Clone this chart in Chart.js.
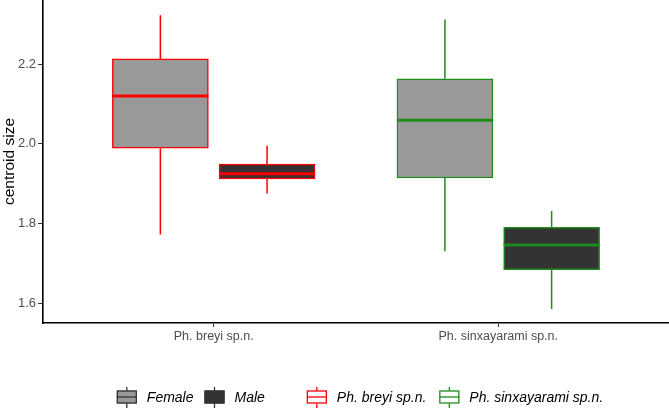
<!DOCTYPE html>
<html>
<head>
<meta charset="utf-8">
<script src="https://cdn.jsdelivr.net/npm/chart.js@4.4.0/dist/chart.umd.min.js"></script>
<style>
body { margin: 0; background: #fff; }
#wrap { width: 669px; height: 408px; }
</style>
</head>
<body>
<div id="wrap"><canvas id="chart-box" width="669" height="408"></canvas></div>
<script>
// data
var categories = ['Ph. breyi sp.n.', 'Ph. sinxayarami sp.n.'];
var categoryPos = [1, 2];
var sexes = ['Female', 'Male'];
var yTicks = [1.6, 1.8, 2.0, 2.2];

var femaleMin = [1.772, 1.730];
var femaleQ1 = [1.989, 1.914];
var femaleMedian = [2.120, 2.059];
var femaleQ3 = [2.213, 2.163];
var femaleMax = [2.323, 2.312];

var maleMin = [1.875, 1.585];
var maleQ1 = [1.912, 1.684];
var maleMedian = [1.925, 1.746];
var maleQ3 = [1.949, 1.790];
var maleMax = [1.995, 1.831];

var speciesColors = ['#FF0000', '#1F8B1F'];
var sexFills = ['#999999', '#333333'];
var dodge = 0.1875;

var canv = document.getElementById('chart-box');
var context = canv.getContext('2d');

var makeBoxes = (label, offset, q1, q3, mins, meds, maxs, fill) => {
    var pts = [];
    for (var i = 0; i < categoryPos.length; i++) {
        pts.push({x: categoryPos[i] + offset, y: [q1[i], q3[i]]});
    }
    return {
        label: label,
        data: pts,
        stats: {min: mins, median: meds, max: maxs},
        backgroundColor: fill,
        borderColor: speciesColors,
        borderWidth: 1.5,
        borderSkipped: false,
        barThickness: 96,
        grouped: false
    };
};

// whiskers go under the boxes, medians on top
var drawParts = (chart, part) => {
    var ctx = chart.ctx;
    var ys = chart.scales.y;
    chart.data.datasets.forEach((ds, di) => {
        var meta = chart.getDatasetMeta(di);
        meta.data.forEach((bar, i) => {
            ctx.save();
            ctx.strokeStyle = ds.borderColor[i];
            ctx.beginPath();
            if (part === 'whisker') {
                ctx.lineWidth = 1.5;
                ctx.moveTo(bar.x, ys.getPixelForValue(ds.stats.max[i]));
                ctx.lineTo(bar.x, ys.getPixelForValue(ds.data[i].y[1]));
                ctx.moveTo(bar.x, ys.getPixelForValue(ds.data[i].y[0]));
                ctx.lineTo(bar.x, ys.getPixelForValue(ds.stats.min[i]));
            } else {
                ctx.lineWidth = 3;
                var my = ys.getPixelForValue(ds.stats.median[i]);
                ctx.moveTo(bar.x - bar.width / 2, my);
                ctx.lineTo(bar.x + bar.width / 2, my);
            }
            ctx.stroke();
            ctx.restore();
        });
    });
};

var drawKey = (ctx, x, cy, fill, stroke) => {
    ctx.strokeStyle = stroke;
    ctx.lineWidth = 1.3;
    ctx.beginPath();
    ctx.moveTo(x + 10, cy - 10);
    ctx.lineTo(x + 10, cy + 11);
    ctx.stroke();
    ctx.fillStyle = fill;
    ctx.fillRect(x, cy - 6.5, 20, 13);
    ctx.strokeRect(x + 0.5, cy - 6, 19, 12);
    ctx.beginPath();
    ctx.moveTo(x, cy);
    ctx.lineTo(x + 20, cy);
    ctx.stroke();
};

var drawLegend = (chart) => {
    var ctx = chart.ctx;
    var items = [
        {label: sexes[0], fill: sexFills[0], stroke: '#333333', gap: 11},
        {label: sexes[1], fill: sexFills[1], stroke: '#333333', gap: 42},
        {label: categories[0], fill: '#FFFFFF', stroke: speciesColors[0], gap: 13},
        {label: categories[1], fill: '#FFFFFF', stroke: speciesColors[1], gap: 0}
    ];
    ctx.save();
    ctx.font = 'italic 14px "Liberation Sans", Arial, sans-serif';
    var total = 0;
    items.forEach((it) => { it.w = ctx.measureText(it.label).width; total += 30 + it.w + it.gap; });
    var x = 360 - total / 2;
    var cy = 397;
    items.forEach((it) => {
        drawKey(ctx, x, cy, it.fill, it.stroke);
        ctx.fillStyle = '#000000';
        ctx.textBaseline = 'middle';
        ctx.textAlign = 'left';
        ctx.fillText(it.label, x + 30, cy + 1);
        x += 30 + it.w + it.gap;
    });
    ctx.restore();
};

var boxLines = {
    id: 'boxLines',
    beforeDatasetsDraw: (chart) => drawParts(chart, 'whisker'),
    afterDatasetsDraw: (chart) => drawParts(chart, 'median'),
    afterDraw: drawLegend
};

var config = {
    type: 'bar',
    data: {
        datasets: [
            makeBoxes(sexes[0], -dodge, femaleQ1, femaleQ3, femaleMin, femaleMedian, femaleMax, sexFills[0]),
            makeBoxes(sexes[1], dodge, maleQ1, maleQ3, maleMin, maleMedian, maleMax, sexFills[1])
        ]
    },
    options: {
        responsive: false,
        animation: false,
        layout: {padding: 0},
        plugins: {legend: {display: false}, tooltip: {enabled: false}},
        scales: {
            x: {
                type: 'linear',
                min: 0.4,
                max: 2.6,
                offset: false,
                afterBuildTicks: (s) => { s.ticks = categoryPos.map((v) => ({value: v})); },
                afterFit: (s) => { s.height = 85; s.paddingLeft = 0; s.paddingRight = 0; },
                ticks: {
                    callback: (v) => categories[categoryPos.indexOf(v)],
                    color: '#4D4D4D',
                    font: {family: '"Liberation Sans", Arial, sans-serif', size: 12.5},
                    padding: 2,
                    maxRotation: 0
                },
                grid: {display: true, offset: false, drawOnChartArea: false, drawTicks: true, tickLength: 4, color: '#333333'},
                border: {display: true, color: '#000000', width: 1.6}
            },
            y: {
                min: 1.55,
                max: 2.361,
                afterBuildTicks: (s) => { s.ticks = yTicks.map((v) => ({value: v})); },
                afterFit: (s) => { s.width = 43; s.paddingTop = 0; s.paddingBottom = 0; },
                ticks: {
                    callback: (v) => v.toFixed(1),
                    color: '#4D4D4D',
                    font: {family: '"Liberation Sans", Arial, sans-serif', size: 13},
                    padding: 2
                },
                grid: {display: true, drawOnChartArea: false, drawTicks: true, tickLength: 5, color: '#333333'},
                border: {display: true, color: '#000000', width: 1.6},
                title: {
                    display: true,
                    text: 'centroid size',
                    color: '#000000',
                    font: {family: '"Liberation Sans", Arial, sans-serif', size: 15.5},
                    padding: {top: 0, bottom: 0}
                }
            }
        }
    },
    plugins: [boxLines]
};

var chart1 = new Chart(context, config);
</script>
</body>
</html>
